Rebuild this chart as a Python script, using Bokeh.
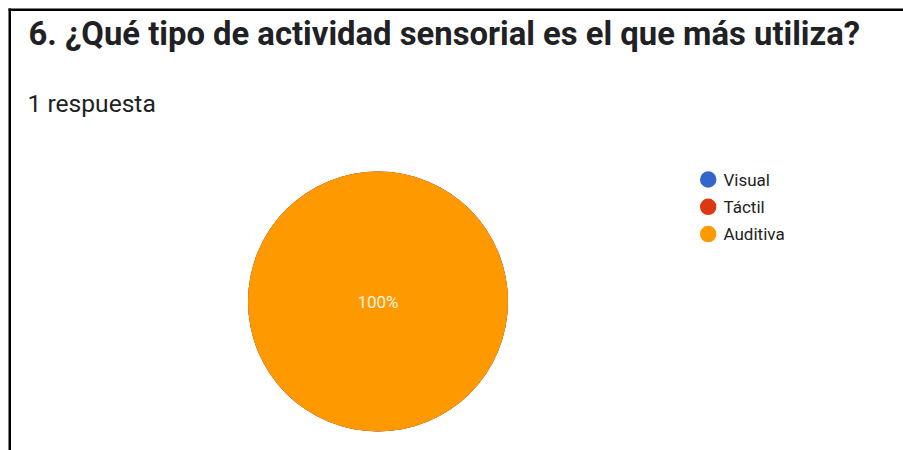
import numpy as np
from bokeh.plotting import figure
from bokeh.models import Range1d, ColumnDataSource
from bokeh.core.properties import value
from bokeh.embed import file_html
from bokeh.resources import INLINE

title = "6. ¿Qué tipo de actividad sensorial es el que más utiliza?"
subtitle = "1 respuesta"
categories = ["Visual", "Táctil", "Auditiva"]
counts = [0, 0, 1]
colors = ["#3366CC", "#DC3912", "#FF9900"]

W, H = 903, 450
p = figure(width=W, height=H, output_backend="svg", toolbar_location=None, tools="",
           x_range=Range1d(0, W), y_range=Range1d(H, 0), min_border=0,
           x_axis_location=None, y_axis_location=None)
p.toolbar.logo = None
p.styles = {"overflow": "hidden"}
p.grid.visible = False
p.outline_line_color = None
p.background_fill_color = "white"
p.border_fill_color = "white"

# frame bars (top and left)
p.hbar(y=[9.25], left=[8], right=[W + 5], height=2.5, fill_color="black", line_color=None)
p.vbar(x=[9.25], bottom=[8], top=[H + 5], width=2.5, fill_color="black", line_color=None)

# title and subtitle
p.text(x=[28], y=[33.5], text=[title], text_font=value("Roboto"), text_font_style="bold",
       text_font_size="32.8px", text_color="#202124", text_baseline="alphabetic")
p.text(x=[27], y=[103], text=[subtitle], text_font=value("Roboto"),
       text_font_size="24.6px", text_color="#202124", text_baseline="alphabetic")

# pie
total = sum(counts)
fracs = [c / total for c in counts]
ends = np.cumsum(fracs) * 2 * np.pi
starts = np.concatenate([[0], ends[:-1]])
src = ColumnDataSource(dict(start=starts, end=ends, color=colors, cat=categories))
cx, cy, r = 377.5, 301, 130
p.wedge(x=cx, y=cy, radius=r, start_angle="start", end_angle="end",
        fill_color="color", line_color=None, source=src)

for c, f, s, e in zip(categories, fracs, starts, ends):
    if f > 0:
        mid = (s + e) / 2
        lx = cx if f >= 0.999 else cx + 0.6 * r * np.cos(mid)
        ly = cy if f >= 0.999 else cy - 0.6 * r * np.sin(mid)
        p.text(x=[lx], y=[ly], text=[f"{round(f*100)}%"], text_font=value("Roboto"),
               text_font_size="17px", text_color="#FFF3E0", text_align="center",
               text_baseline="middle")

# legend
leg_y = [179 + 27.3 * i for i in range(len(categories))]
p.scatter(x=[707.7] * len(categories), y=leg_y, size=16.5, fill_color=colors, line_color=None)
p.text(x=[723] * len(categories), y=leg_y, text=categories, text_font=value("Roboto"),
       text_font_size="17px", text_color="#222222", text_baseline="middle")

open("out.html", "w").write(file_html(p, INLINE))
